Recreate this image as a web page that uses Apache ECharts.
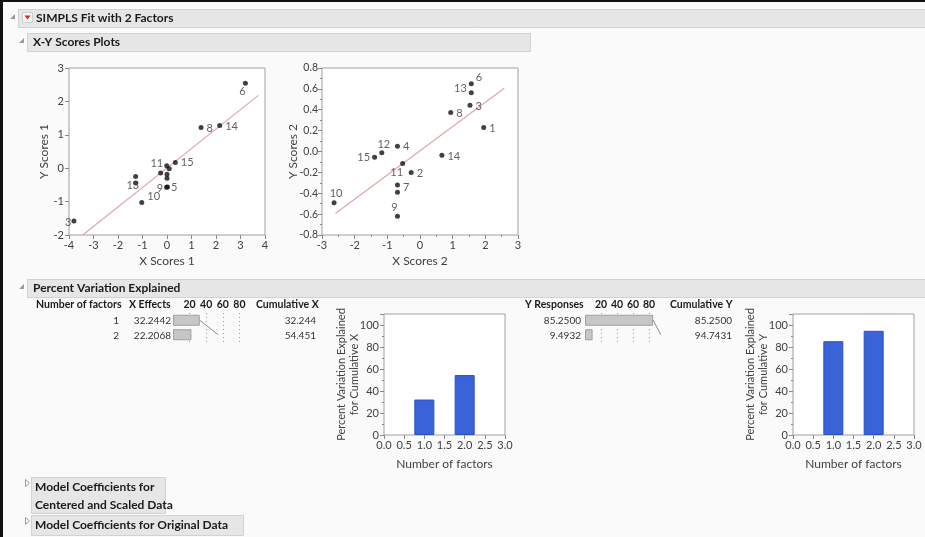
<!DOCTYPE html>
<html><head><meta charset="utf-8">
<script src="https://cdn.jsdelivr.net/npm/echarts@6/dist/echarts.min.js"></script>
<style>html,body{margin:0;padding:0;background:#fafafa}#c{width:925px;height:537px}</style>
</head><body><div id="c"></div>
<script>
// ---------- data ----------
const factors = [1, 2];
const xEffects = [32.2442, 22.2068];
const cumulativeX = [32.244, 54.451];
const yResponses = [85.2500, 9.4932];
const cumulativeY = [85.2500, 94.7431];

const scores1X = [3.2, 2.15, 1.39, 0.34, -0.01, 0.09, -0.26, 0.0, 0.0, -0.02, 0.02, -1.28, -1.28, -1.03, -3.8];
const scores1Y = [2.54, 1.28, 1.22, 0.17, 0.07, -0.02, -0.14, -0.18, -0.30, -0.57, -0.56, -0.25, -0.44, -1.03, -1.58];
const scores1Labels = ['6', '14', '8', '15', '11', '', '', '', '', '9', '5', '', '13', '10', '3'];

const scores2X = [1.57, 1.57, 1.53, 0.94, 1.95, -0.69, -1.17, -1.39, 0.67, -0.53, -0.27, -0.69, -0.69, -2.63, -0.69];
const scores2Y = [0.65, 0.564, 0.443, 0.373, 0.229, 0.051, -0.013, -0.054, -0.035, -0.115, -0.20, -0.32, -0.39, -0.49, -0.62];
const scores2Labels = ['6', '13', '3', '8', '1', '4', '12', '15', '14', '11', '2', '7', '', '10', '9'];

const fit1X = [-3.44, 3.73];
const fit1Y = [-2.0, 2.18];
const fit2X = [-2.59, 2.58];
const fit2Y = [-0.595, 0.606];

// ---------- styles ----------
const FONT = 'Lato, "Noto Sans", sans-serif';
const labelStyle1 = {
  '6': ['bottom', [-3, -3]], '14': ['right', [0, 1]], '8': ['right', [0, 1]], '15': ['right', [0, 0]],
  '11': ['left', [2, -2]], '9': ['left', [2, 1]], '5': ['right', [-2, 1]], '13': ['left', [9, 3]],
  '10': ['right', [0, -6]], '3': ['left', [3, 1]]
};
const labelStyle2 = {
  '6': ['right', [-1, -6]], '13': ['left', [1, -4]], '3': ['right', [0, 1]], '8': ['right', [0, 1]],
  '1': ['right', [0, 1]], '4': ['right', [0, 0]], '12': ['top', [2, 3]], '15': ['left', [1, 0]],
  '14': ['right', [0, 1]], '11': ['bottom', [-6, -2]], '2': ['right', [0, 1]], '7': ['right', [0, 3]],
  '10': ['top', [2, 2]], '9': ['top', [-3, 2]]
};

function pts(xs, ys, labels, styles) {
  return xs.map((x, i) => {
    const lab = labels[i];
    const st = styles[lab];
    const item = { value: [x, ys[i]], name: lab };
    if (st) item.label = { show: true, position: st[0], offset: st[1], distance: 3 };
    return item;
  });
}

const frameGrid = (l, t, w, h) => ({ left: l, top: t, width: w, height: h, show: true, backgroundColor: '#ffffff', borderColor: '#a0a0a0', borderWidth: 1 });
const TICK = { show: true, inside: false, length: 4, lineStyle: { color: '#8a8a8a' } };
const MINOR = { show: true, splitNumber: 2, length: 2, lineStyle: { color: '#8a8a8a' } };

function valAxis(gi, min, max, interval, extra) {
  return Object.assign({
    type: 'value', gridIndex: gi, min, max, interval,
    axisLine: { show: false, onZero: false },
    axisTick: TICK,
    splitLine: { show: false },
    axisLabel: { color: '#404040', fontFamily: FONT, fontSize: 11, margin: 5 },
    nameLocation: 'middle',
    nameMoveOverlap: false,
    nameTextStyle: { color: '#404040', fontFamily: FONT, fontSize: 12 }
  }, extra || {});
}

const pctName = { color: '#404040', fontFamily: FONT, fontSize: 11, lineHeight: 13 };
const facLabel = { color: '#404040', fontFamily: FONT, fontSize: 11, margin: 5, formatter: v => v.toFixed(1) };
const pctLabel = { color: '#404040', fontFamily: FONT, fontSize: 11, margin: 5, showMaxLabel: false };
const headAxis = (gi) => ({
  type: 'value', gridIndex: gi, min: 0, max: 100, interval: 20, position: 'top',
  axisLine: { show: false, onZero: false }, axisTick: { show: false },
  axisLabel: { show: true, showMinLabel: false, showMaxLabel: false, margin: 3, color: '#1a1a1a', fontFamily: FONT, fontSize: 10.5, fontWeight: 'bold' },
  splitLine: { show: true, showMinLine: false, showMaxLine: false, lineStyle: { color: '#9a9a9a', type: [1, 3], width: 1 } }
});

const option = {
  backgroundColor: '#fafafa',
  animation: false,
  textStyle: { fontFamily: FONT },
  grid: [
    frameGrid(69, 68, 196, 167),
    frameGrid(322, 68, 196, 167),
    { left: 173, top: 313, width: 83, height: 29, show: false },
    { left: 585, top: 313, width: 80, height: 29, show: false },
    frameGrid(384, 314, 121, 121),
    frameGrid(793, 314, 121, 121)
  ],
  xAxis: [
    valAxis(0, -4, 4, 1, { name: 'X Scores 1', nameGap: 20 }),
    valAxis(1, -3, 3, 1, { name: 'X Scores 2', nameGap: 20, minorTick: MINOR }),
    headAxis(2),
    headAxis(3),
    valAxis(4, 0, 3, 0.5, { name: 'Number of factors', nameGap: 23, axisLabel: facLabel }),
    valAxis(5, 0, 3, 0.5, { name: 'Number of factors', nameGap: 23, axisLabel: facLabel })
  ],
  yAxis: [
    valAxis(0, -2, 3, 1, { name: 'Y Scores 1', nameGap: 19 }),
    valAxis(1, -0.8, 0.8, 0.2, { name: 'Y Scores 2', nameGap: 23, axisLabel: { color: '#404040', fontFamily: FONT, fontSize: 10.5, margin: 4, formatter: v => v.toFixed(1) }, minorTick: MINOR }),
    { type: 'category', gridIndex: 2, data: factors.map(String), inverse: true, show: false },
    { type: 'category', gridIndex: 3, data: factors.map(String), inverse: true, show: false },
    valAxis(4, 0, 110, 20, { name: 'Percent Variation Explained\nfor Cumulative X', nameGap: 23, nameTextStyle: pctName, axisLabel: pctLabel, minorTick: MINOR }),
    valAxis(5, 0, 110, 20, { name: 'Percent Variation Explained\nfor Cumulative Y', nameGap: 23, nameTextStyle: pctName, axisLabel: pctLabel, minorTick: MINOR })
  ],
  series: [
    { type: 'line', xAxisIndex: 0, yAxisIndex: 0, data: fit1X.map((x, i) => [x, fit1Y[i]]), symbol: 'none', lineStyle: { color: '#e7a3aa', width: 1.2 }, silent: true, z: 1 },
    { type: 'line', xAxisIndex: 1, yAxisIndex: 1, data: fit2X.map((x, i) => [x, fit2Y[i]]), symbol: 'none', lineStyle: { color: '#e7a3aa', width: 1.2 }, silent: true, z: 1 },
    { type: 'scatter', xAxisIndex: 0, yAxisIndex: 0, symbolSize: 5, itemStyle: { color: '#111' },
      label: { show: false, formatter: p => p.name, color: '#3a3a3a', fontFamily: FONT, fontSize: 11 },
      data: pts(scores1X, scores1Y, scores1Labels, labelStyle1), z: 3 },
    { type: 'scatter', xAxisIndex: 1, yAxisIndex: 1, symbolSize: 5, itemStyle: { color: '#111' },
      label: { show: false, formatter: p => p.name, color: '#3a3a3a', fontFamily: FONT, fontSize: 11 },
      data: pts(scores2X, scores2Y, scores2Labels, labelStyle2), z: 3 },
    { type: 'bar', xAxisIndex: 2, yAxisIndex: 2, data: xEffects, barWidth: 11, itemStyle: { color: '#c6c6c6', borderColor: '#a0a0a0', borderWidth: 1 } },
    { type: 'line', xAxisIndex: 2, yAxisIndex: 2, data: cumulativeX.map((v, i) => [v, i]), symbol: 'none', lineStyle: { color: '#8c8c8c', width: 1 } },
    { type: 'bar', xAxisIndex: 3, yAxisIndex: 3, data: yResponses, barWidth: 11, itemStyle: { color: '#c6c6c6', borderColor: '#a0a0a0', borderWidth: 1 } },
    { type: 'line', xAxisIndex: 3, yAxisIndex: 3, data: cumulativeY.map((v, i) => [v, i]), symbol: 'none', lineStyle: { color: '#8c8c8c', width: 1 } },
    { type: 'bar', xAxisIndex: 4, yAxisIndex: 4, data: factors.map((f, i) => [f, cumulativeX[i]]), barWidth: 20, itemStyle: { color: '#3a62d9', borderColor: '#2b4fbf', borderWidth: 1 } },
    { type: 'bar', xAxisIndex: 5, yAxisIndex: 5, data: factors.map((f, i) => [f, cumulativeY[i]]), barWidth: 20, itemStyle: { color: '#3a62d9', borderColor: '#2b4fbf', borderWidth: 1 } }
  ],
  graphic: { elements: [] }
};

// ---------- report chrome (headers, table text) ----------
const G = option.graphic.elements;
function rect(x, y, w, h, fill, stroke) { G.push({ type: 'rect', shape: { x, y, width: w, height: h }, style: { fill, stroke: stroke || null, lineWidth: 1 }, silent: true, z: -1 }); }
function text(t, x, y, font, align, color) { G.push({ type: 'text', style: { text: t, x, y, font, textAlign: align || 'left', textVerticalAlign: 'middle', fill: color || '#1a1a1a' }, silent: true }); }
function tri(points, fill, stroke) { G.push({ type: 'polygon', shape: { points }, style: { fill, stroke: stroke || null, lineWidth: 1 }, silent: true }); }

const HB = 'bold 12px ' + FONT;
const TB = 'bold 10.5px ' + FONT;
const TN = '10px ' + FONT;

// outer frame
rect(0, 0, 925, 2, '#111');
rect(0, 0, 3, 537, '#111');

// section headers
rect(18.5, 9.5, 920, 18, '#e6e6e6', '#d2d2d2');
tri([[10, 19], [15, 14], [15, 19]], '#9a9a9a');
rect(22.5, 12.5, 10, 10, '#f4f4f4', '#cfcfcf');
tri([[24.5, 15.5], [30.5, 15.5], [27.5, 19.5]], '#d9262c');
text('SIMPLS Fit with 2 Factors', 36, 18.5, HB);

rect(27.5, 33.5, 503, 18, '#e6e6e6', '#d2d2d2');
tri([[19, 43], [24, 38], [24, 43]], '#9a9a9a');
text('X-Y Scores Plots', 33, 42.5, HB);

rect(27.5, 279.5, 900, 18, '#e6e6e6', '#d2d2d2');
tri([[19, 289], [24, 284], [24, 289]], '#9a9a9a');
text('Percent Variation Explained', 33, 288.5, HB);

rect(31.5, 477.5, 134, 36, '#e6e6e6', '#d2d2d2');
tri([[25.5, 479.5], [29.5, 483], [25.5, 486.5]], '#fff', '#9a9a9a');
text('Model Coefficients for', 35, 487, HB);
text('Centered and Scaled Data', 35, 505, HB);
rect(31.5, 515.5, 212, 20, '#e6e6e6', '#d2d2d2');
tri([[25.5, 517.5], [29.5, 521], [25.5, 524.5]], '#fff', '#9a9a9a');
text('Model Coefficients for Original Data', 35, 525, HB);

// table text
const rowY = [320.5, 335.5];
text('Number of factors', 36, 305, TB);
text('X Effects', 129, 305, TB);
text('Cumulative X', 256, 305, TB);
text('Y Responses', 525, 305, TB);
text('Cumulative Y', 670, 305, TB);
factors.forEach((f, i) => {
  text(String(f), 119, rowY[i], TN, 'right', '#333');
  text(xEffects[i].toFixed(4), 171, rowY[i], TN, 'right', '#333');
  text(cumulativeX[i].toFixed(3), 316, rowY[i], TN, 'right', '#333');
  text(yResponses[i].toFixed(4), 581, rowY[i], TN, 'right', '#333');
  text(cumulativeY[i].toFixed(4), 732, rowY[i], TN, 'right', '#333');
});

const chart = echarts.init(document.getElementById('c'), null, { renderer: 'canvas' });
chart.setOption(option);
</script>
</body></html>
